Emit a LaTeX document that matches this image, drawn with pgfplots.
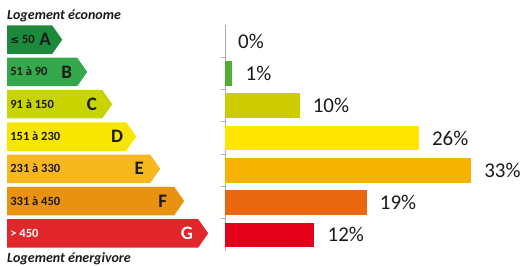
\documentclass[border=0pt]{standalone}
\usepackage{pgfplots}
\pgfplotsset{compat=1.18}
\usepackage{fontspec}
\setmainfont{Carlito}
\newfontfamily\dejavu{DejaVu Sans}
\definecolor{arrA}{HTML}{1B8A3A}
\definecolor{arrB}{HTML}{34A84A}
\definecolor{arrC}{HTML}{C8D400}
\definecolor{arrD}{HTML}{F7E600}
\definecolor{arrE}{HTML}{F6B81C}
\definecolor{arrF}{HTML}{E8920F}
\definecolor{arrG}{HTML}{E1262C}
\definecolor{barB}{HTML}{52AE32}
\definecolor{barC}{HTML}{CCCC00}
\definecolor{barD}{HTML}{FFE600}
\definecolor{barE}{HTML}{F5B300}
\definecolor{barF}{HTML}{E9670F}
\definecolor{barG}{HTML}{E2001A}
\definecolor{txt}{HTML}{1A1A1A}
% #1 color, #2 width (pt), #3 range text, #4 letter, #5 text color, #6 letter right gap
\newcommand{\energyarrow}[6]{%
  \tikz[x=1pt,y=1pt]{%
    \fill[#1] (0,0) -- (#2-10,0) -- (#2,14.25) -- (#2-10,28.5) -- (0,28.5) -- cycle;
    \node[anchor=base west, inner sep=0pt, text=#5, font=\bfseries\fontsize{12.5}{12.5}\selectfont] at (3,10.2) {#3};
    \node[anchor=base east, inner sep=0pt, text=#5, font=\bfseries\fontsize{19}{19}\selectfont] at (#2-#6,8.1) {#4};
  }}
\newsavebox\bA \newsavebox\bB \newsavebox\bC \newsavebox\bD
\newsavebox\bE \newsavebox\bF \newsavebox\bG
\begin{document}
\sbox\bA{\energyarrow{arrA}{55}{{\dejavu\bfseries\fontsize{10.5}{10.5}\selectfont ≤} 50}{A}{txt}{11}}%
\sbox\bB{\energyarrow{arrB}{80}{51 à 90}{B}{txt}{15}}%
\sbox\bC{\energyarrow{arrC}{105}{91 à 150}{C}{txt}{15}}%
\sbox\bD{\energyarrow{arrD}{129}{151 à 230}{D}{txt}{13}}%
\sbox\bE{\energyarrow{arrE}{153}{231 à 330}{E}{txt}{16}}%
\sbox\bF{\energyarrow{arrF}{177}{331 à 450}{F}{txt}{17}}%
\sbox\bG{\energyarrow{arrG}{201}{> 450}{G}{white}{15}}%
\begin{tikzpicture}
\begin{axis}[
  at={(225pt,14pt)}, anchor=south west,
  scale only axis, width=296pt, height=226pt,
  xmin=0, xmax=39.7, ymin=-0.5, ymax=6.5, y dir=reverse,
  axis x line=none, axis y line=left,
  axis line style={-, draw=gray!65, line width=0.8pt},
  xbar, bar width=24.5pt,
  ytick={0,...,6},
  yticklabels={\usebox\bA,\usebox\bB,\usebox\bC,\usebox\bD,\usebox\bE,\usebox\bF,\usebox\bG},
  major tick length=0pt,
  minor ytick={0.5,1.5,...,5.5},
  minor tick length=4pt, tick align=outside,
  y tick style={draw=gray!65, line width=0.8pt},
  yticklabel style={anchor=west, inner sep=0pt, xshift=-218pt, yshift=1.5pt},
  clip=false,
  /pgf/number format/assume math mode=true,
  point meta=x,
  nodes near coords={\pgfmathprintnumber{\pgfplotspointmeta}\%},
  nodes near coords style={anchor=west, inner sep=0pt, xshift=13pt,
    font=\fontsize{21}{21}\selectfont, text=txt},
]
\addplot[bar shift=0pt, draw=none, fill=none] coordinates {(0,0)};
\addplot[bar shift=0pt, draw=none, fill=barB] coordinates {(1,1)};
\addplot[bar shift=0pt, draw=none, fill=barC] coordinates {(10,2)};
\addplot[bar shift=0pt, draw=none, fill=barD] coordinates {(26,3)};
\addplot[bar shift=0pt, draw=none, fill=barE] coordinates {(33,4)};
\addplot[bar shift=0pt, draw=none, fill=barF] coordinates {(19,5)};
\addplot[bar shift=0pt, draw=none, fill=barG] coordinates {(12,6)};
\end{axis}
\node[anchor=base west, inner sep=0pt, text=txt, font=\bfseries\itshape\fontsize{14}{14}\selectfont] at (7pt,245pt) {Logement économe};
\node[anchor=base west, inner sep=0pt, text=txt, font=\bfseries\itshape\fontsize{14}{14}\selectfont] at (7pt,2.5pt) {Logement énergivore};
\pgfresetboundingbox
\path[use as bounding box] (0pt,0pt) rectangle (524pt,265pt);
\end{tikzpicture}
\end{document}
